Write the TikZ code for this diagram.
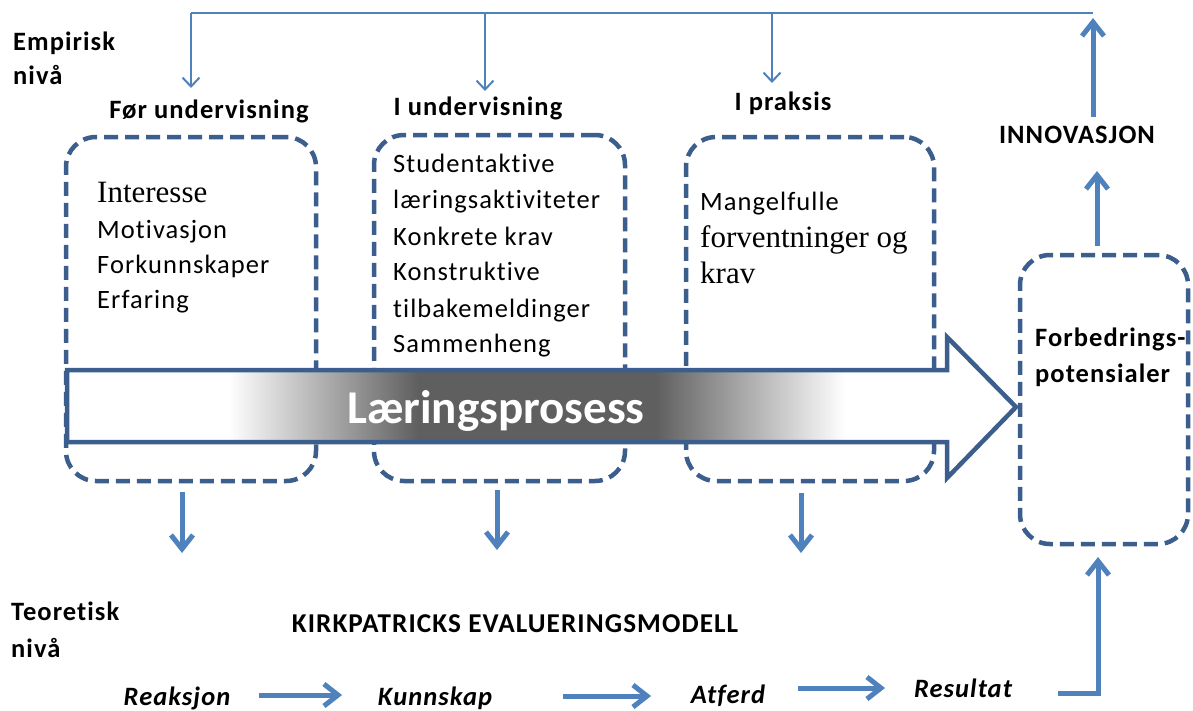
\documentclass[tikz,border=0pt]{standalone}
\usepackage{fontspec}
\setmainfont{Carlito}[LetterSpace=4, Ligatures={NoCommon}]
\newfontfamily\plaincal{Carlito}[Ligatures={NoCommon}]
\newfontfamily\tnr{Liberation Serif}
\usetikzlibrary{arrows.meta}
\definecolor{boxblue}{HTML}{3B5E8C}
\definecolor{arrblue}{HTML}{4F81BD}
\definecolor{shadegray}{HTML}{5F5F5F}
\pgfdeclarehorizontalshading{lpshade}{100bp}{color(0bp)=(white); color(33.5bp)=(white); color(43.5bp)=(shadegray); color(56bp)=(shadegray); color(66bp)=(white); color(100bp)=(white)}
\begin{document}
\begin{tikzpicture}[x=1pt,y=-1pt,
 dbox/.style={draw=boxblue, line width=4.5pt, dash pattern=on 14pt off 7pt, rounded corners=30pt, inner sep=0pt},
 hd/.style={font=\fontsize{26.5}{30}\selectfont\bfseries, anchor=base, inner sep=0pt},
 lbl/.style={font=\fontsize{26.5}{30}\selectfont\bfseries, anchor=base west, inner sep=0pt},
 txt/.style={font=\fontsize{26.5}{30}\selectfont, anchor=base west, inner sep=0pt},
 ser/.style={font=\fontsize{31}{36}\selectfont\tnr, anchor=base west, inner sep=0pt},
 itl/.style={font=\fontsize{26.5}{30}\selectfont\bfseries\itshape, anchor=base, inner sep=0pt},
 thinline/.style={arrblue, line width=2pt},
 thinarr/.style={arrblue, line width=2pt, -{Straight Barb[length=9pt,width=17pt]}},
 thickarr/.style={arrblue, line width=5pt, -{Straight Barb[length=14pt,width=22pt]}},
]
\useasboundingbox (0,0) rectangle (1193,710);

% level labels
\node[lbl] (emp1) at (13,50) {Empirisk};
\node[lbl] (emp2) at (13,84) {nivå};
\node[lbl] (teo1) at (11,620) {Teoretisk};
\node[lbl] (teo2) at (11,657) {nivå};

% headings
\node[hd] (h1) at (209,118) {Før undervisning};
\node[hd] (h2) at (478,115) {I undervisning};
\node[hd] (h3) at (783,110) {I praksis};
\node[hd] (inn) at (1077,143) {INNOVASJON};

% dashed boxes
\node[dbox, minimum width=250pt, minimum height=344pt] (b1) at (191,309) {};
\node[dbox, minimum width=251pt, minimum height=346pt] (b2) at (499.5,308) {};
\node[dbox, minimum width=248pt, minimum height=344pt] (b3) at (810,309) {};
\node[dbox, minimum width=168pt, minimum height=289pt] (b4) at (1104,399.5) {};

% box texts
\node[ser] (t11) at (97,202) {Interesse};
\node[txt] (t12) at (97,238) {Motivasjon};
\node[txt] (t13) at (97,273) {Forkunnskaper};
\node[txt] (t14) at (97,308) {Erfaring};

\node[txt] (t21) at (393,172) {Studentaktive};
\node[txt] (t22) at (393,208) {læringsaktiviteter};
\node[txt] (t23) at (393,245) {Konkrete krav};
\node[txt] (t24) at (393,280) {Konstruktive};
\node[txt] (t25) at (393,317) {tilbakemeldinger};
\node[txt] (t26) at (393,352) {Sammenheng};

\node[txt] (t31) at (700,210) {Mangelfulle};
\node[ser] (t32) at (700,247) {forventninger og};
\node[ser] (t33) at (700,283) {krav};

\node[lbl] (t41) at (1035,346) {Forbedrings-};
\node[lbl] (t42) at (1035,382) {potensialer};

% big arrow
\shadedraw[shading=lpshade, draw=boxblue, line width=4.5pt, line join=miter]
  (67,370) -- (947,370) -- (947,337) -- (1016,407) -- (947,478) -- (947,442) -- (67,442) -- cycle;
\node[anchor=base, inner sep=0pt, text=white, font=\plaincal\fontsize{47}{50}\selectfont\bfseries] (lp) at (496,423) {Læringsprosess};

% feedback line on top
\coordinate (fbR) at (1093,13);
\coordinate (fb1) at (191,13);
\coordinate (fb2) at (485,13);
\coordinate (fb3) at (772,13);
\coordinate (tp1) at (191,88);
\coordinate (tp2) at (485,91);
\coordinate (tp3) at (772,83);
\draw[thinline] (fbR) -- (fb1);
\draw[thinarr] (fb1) -- (tp1);
\draw[thinarr] (fb2) -- (tp2);
\draw[thinarr] (fb3) -- (tp3);

% innovation arrows
\coordinate (innS) at (1093,117);
\coordinate (innT) at (1093,18);
\draw[thickarr] (innS) -- (innT);
\coordinate (b4S) at (1097,246);
\coordinate (b4T) at (1097,171);
\draw[thickarr] (b4S) -- (b4T);

% arrows below boxes
\coordinate (d1s) at (182,492); \coordinate (d1e) at (182,553);
\coordinate (d2s) at (497,490); \coordinate (d2e) at (497,550);
\coordinate (d3s) at (801,493); \coordinate (d3e) at (801,553);
\draw[thickarr] (d1s) -- (d1e);
\draw[thickarr] (d2s) -- (d2e);
\draw[thickarr] (d3s) -- (d3e);

% Kirkpatrick
\node[lbl, anchor=base, font=\fontsize{27.2}{30}\selectfont\bfseries] (kirk) at (515,632) {KIRKPATRICKS EVALUERINGSMODELL};
\node[itl] (k1) at (177,705) {Reaksjon};
\node[itl] (k2) at (435,705) {Kunnskap};
\node[itl] (k3) at (728,703) {Atferd};
\node[itl] (k4) at (963,697) {Resultat};

\coordinate (a1s) at (259,695); \coordinate (a1e) at (342,695);
\coordinate (a2s) at (563,696); \coordinate (a2e) at (651,696);
\coordinate (a3s) at (798,688); \coordinate (a3e) at (885,688);
\draw[thickarr] (a1s) -- (a1e);
\draw[thickarr] (a2s) -- (a2e);
\draw[thickarr] (a3s) -- (a3e);
\coordinate (a4s) at (1058,693);
\coordinate (a4m) at (1098,693);
\coordinate (a4e) at (1098,557);
\draw[thickarr, line join=miter] (a4s) -- (a4m) -- (a4e);
\end{tikzpicture}
\end{document}
